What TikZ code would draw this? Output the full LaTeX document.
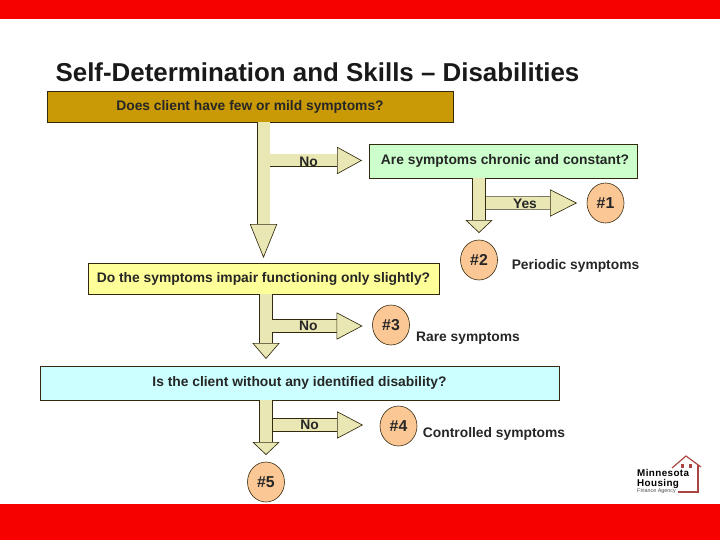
\documentclass[tikz,border=0pt]{standalone}
\usepackage{fontspec}
\setmainfont{Liberation Sans}
\usepackage{xcolor}
\usetikzlibrary{arrows.meta, positioning, shapes.geometric}
\definecolor{edgedark}{HTML}{33290F}
\definecolor{arrowfill}{HTML}{E9E7B4}
\definecolor{bargold}{HTML}{C99A06}
\definecolor{boxyellow}{HTML}{FFFF99}
\definecolor{boxgreen}{HTML}{CCFFCC}
\definecolor{boxcyan}{HTML}{CCFFFF}
\definecolor{badgeorange}{HTML}{FBC795}
\definecolor{logored}{HTML}{A9463F}

\begin{document}
\begin{tikzpicture}[
    x=0.03cm, y=-0.03cm,
    node distance=1cm and 1cm, on grid,
    box/.style={draw=edgedark, line width=0.6pt, outer sep=0pt, align=center, inner sep=0pt, font=\bfseries\fontsize{11.8}{14}\selectfont, text=black!85},
    badge/.style={draw=edgedark, line width=0.5pt, fill=badgeorange, ellipse, minimum width=1.11cm, minimum height=1.2cm, inner sep=0pt, outer sep=0pt, font=\bfseries\fontsize{13.5}{16}\selectfont, text=black!85},
    lab/.style={font=\bfseries\fontsize{11.8}{14}\selectfont, text=black!85, inner sep=0pt},
    logotext/.style={font=\bfseries\fontsize{8.4}{9}\selectfont\addfontfeature{LetterSpace=4}, inner sep=0pt, anchor=west},
    fatarrow/.style={draw=edgedark, line width=0.55pt, double=arrowfill, double distance=0.36cm,
        -{Triangle[open, fill=arrowfill, length=#1, width=0.82cm, line width=0.55pt]}}
]
    \useasboundingbox (0,0) rectangle (720,540);
    \fill[red!97!black] (0,0) rectangle (720,19);
    \fill[red!97!black] (0,504) rectangle (720,540);
    \node[font=\bfseries\fontsize{22.1}{26}\selectfont, text=black!90, inner sep=0pt] (title) at (317.5,72) {Self-Determination and Skills -- Disabilities};

    \node[box, fill=bargold, minimum width=12.18cm, minimum height=0.93cm] (mild) at (250,106.5) {Does client have few or mild symptoms?};
    \node[box, fill=boxyellow, minimum width=10.53cm, minimum height=0.93cm, below right=5.16cm and 0.405cm of mild] (impair) {Do the symptoms impair functioning only slightly?};
    \node[box, fill=boxcyan, minimum width=15.57cm, minimum height=1.02cm, below right=3.135cm and 1.08cm of impair] (disab) {Is the client without any identified disability?};
    \node[box, fill=boxgreen, minimum width=8.04cm, minimum height=1.02cm, above right=3.525cm and 7.185cm of impair] (chronic) {\hspace*{0.12cm}Are symptoms chronic and constant?};

    \node[badge, below left=2.97cm and 0.72cm of chronic] (two) {\#2};
    \node[badge, above right=1.71cm and 3.795cm of two] (one) {\#1};
    \node[badge, below right=1.395cm and 3.825cm of impair] (three) {\#3};
    \node[badge, below right=1.29cm and 2.97cm of disab] (four) {\#4};
    \node[badge, below left=2.97cm and 1.005cm of disab] (five) {\#5};

    \node[lab, below right=0.18cm and 2.895cm of two] (periodic) {Periodic symptoms};
    \node[lab, below right=0.39cm and 2.31cm of three] (rare) {Rare symptoms};
    \node[lab, below right=0.24cm and 2.865cm of four] (controlled) {Controlled symptoms};

    \coordinate (forkmild) at (270,160.5);
    \coordinate (forkchronic) at (486,203);
    \coordinate (forkimpair) at (272,326);
    \coordinate (forkdisab) at (273,425);

    \draw[fatarrow=1.02cm, shorten >=0.15cm] (mild.south -| impair) -- (impair.north);
    \draw[fatarrow=0.75cm, shorten >=0.21cm] (forkmild) -- node[lab, pos=0.39, yshift=-0.03cm] (nomild) {No} (forkmild -| chronic.west);
    \draw[fatarrow=0.39cm, shorten >=0.21cm] (chronic.south -| two) -- (two.north);
    \draw[fatarrow=0.81cm, shorten >=0.3cm] (forkchronic) -- node[lab, pos=0.386, yshift=-0.03cm] (yes) {Yes} (one.west);
    \draw[fatarrow=0.48cm, shorten >=0.21cm] (five |- impair.south) -- (five |- disab.north);
    \draw[fatarrow=0.78cm, shorten >=0.3cm] (forkimpair) -- node[lab, pos=0.362] (noimpair) {No} (forkimpair -| three.west);
    \draw[fatarrow=0.39cm, shorten >=0.21cm] (five |- disab.south) -- (five.north);
    \draw[fatarrow=0.78cm, shorten >=0.51cm] (forkdisab) -- node[lab, pos=0.342] (nodisab) {No} (forkdisab -| four.west);

    \draw[logored, line width=1pt] (672,468) -- (686,456) -- (701,467);
    \draw[logored, line width=1pt] (698,465) -- (698,492) -- (678,492);
    \fill[logored] (680.5,464) rectangle (683.5,468);
    \fill[logored] (688.5,464) rectangle (691.5,468);
    \node[logotext] (minn) at (637,473) {Minnesota};
    \node[logotext] (hous) at (637,483.5) {Housing};
    \node[font=\fontsize{4.6}{5}\selectfont, text=black!70, inner sep=0pt, anchor=west] (agency) at (637,491) {Finance Agency};
\end{tikzpicture}
\end{document}
